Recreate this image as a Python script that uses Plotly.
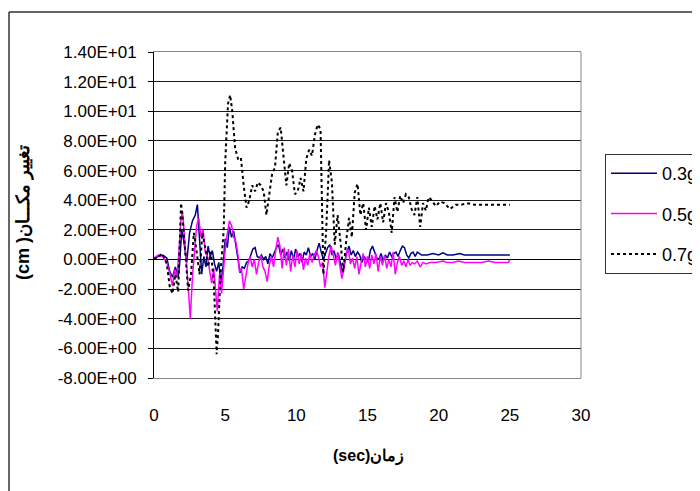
import plotly.graph_objects as go

# ---------------- data ----------------
t_03 = [0, 0.3, 0.6, 0.9, 1.1, 1.3, 1.5, 1.7, 1.8, 1.95, 2.1, 2.3, 2.5, 2.7, 2.9, 3.05, 3.2, 3.35, 3.5, 3.65,
        3.8, 3.95, 4.1, 4.25, 4.4, 4.55, 4.7, 4.85, 5.0, 5.15, 5.3, 5.45, 5.6, 5.75, 5.9, 6.05, 6.2, 6.35, 6.5, 6.65,
        6.8, 6.95, 7.1, 7.25, 7.4, 7.55, 7.7, 7.85, 8.0, 8.15, 8.3, 8.45, 8.6, 8.75, 8.9, 9.05, 9.2, 9.35, 9.5, 9.65,
        9.8, 9.95, 10.1, 10.25, 10.4, 10.55, 10.7, 10.85, 11.0, 11.15, 11.3, 11.45, 11.6, 11.75, 11.9, 12.05, 12.2, 12.35, 12.5, 12.65,
        12.8, 12.95, 13.1, 13.25, 13.4, 13.55, 13.7, 13.85, 14.0, 14.15, 14.3, 14.45, 14.6, 14.75, 14.9, 15.05, 15.2, 15.35, 15.5, 15.65,
        15.8, 15.95, 16.1, 16.25, 16.4, 16.55, 16.7, 16.85, 17.0, 17.15, 17.3, 17.45, 17.6, 17.75, 17.9, 18.05, 18.2, 18.35, 18.5, 18.65,
        18.8, 18.95, 19.2, 19.6, 20.0, 20.3, 20.6, 21.0, 21.5, 21.8, 22.5, 23.0, 24.0, 25.0]
d_03 = [0.1, 0.2, 0.3, 0.1, -0.8, -1.2, -0.5, -1.2, -0.3, 2.0, 1.2, -0.2, 1.8, 2.6, 3.0, 3.7, 1.5, -1.0, 0.2, -0.5,
        0.9, 0.2, 0.6, -0.3, -0.8, -0.2, -1.6, -0.5, 1.4, 0.8, 2.2, 1.5, 1.9, 1.0, -0.2, -0.9, -0.5, -0.6, -0.2, -0.1,
        0.3, 0.7, 0.8, 0.2, 0.1, 0.3, 0.0, 0.2, -0.3, 0.4, 0.1, 0.5, 0.8, 1.0, 0.3, 0.7, 0.1, 0.5, -0.1, 0.6,
        0.0, 0.7, 0.2, 0.4, -0.2, 0.5, 0.3, 0.8, 0.2, 0.4, 0.0, 0.6, 1.1, 0.5, 0.0, 0.4, 0.8, 1.0, 0.3, 0.6,
        0.0, 0.4, -0.3, -0.9, -0.2, 0.5, 0.9, 0.3, 0.6, 0.2, 0.5, 0.3, -0.2, 0.2, 0.0, -0.2, 0.6, 0.9, 0.5, 0.1,
        0.0, 0.4, -0.1, 0.3, 0.1, 0.5, 0.2, 0.4, 0.5, 0.2, 0.6, 0.9, 0.8, 0.3, 0.1, 0.4, 0.5, 0.2, 0.5, 0.4,
        0.3, 0.3, 0.3, 0.4, 0.3, 0.45, 0.3, 0.3, 0.4, 0.3, 0.3, 0.3, 0.3, 0.3]

t_05 = [0, 0.3, 0.6, 0.9, 1.1, 1.3, 1.45, 1.6, 1.75, 1.9, 2.0, 2.15, 2.3, 2.45, 2.55, 2.7, 2.85, 3.0, 3.15, 3.3,
        3.45, 3.6, 3.75, 3.9, 4.05, 4.2, 4.3, 4.45, 4.6, 4.75, 4.9, 5.05, 5.2, 5.3, 5.45, 5.6, 5.75, 5.9, 6.0, 6.15,
        6.3, 6.45, 6.6, 6.75, 6.9, 7.05, 7.2, 7.35, 7.5, 7.65, 7.8, 7.95, 8.1, 8.25, 8.4, 8.55, 8.7, 8.85, 9.0, 9.15,
        9.3, 9.45, 9.6, 9.75, 9.9, 10.05, 10.2, 10.35, 10.5, 10.65, 10.8, 10.95, 11.1, 11.25, 11.4, 11.55, 11.7, 11.85, 12.0, 12.15,
        12.3, 12.45, 12.6, 12.75, 12.9, 13.05, 13.2, 13.35, 13.5, 13.65, 13.8, 13.95, 14.1, 14.25, 14.4, 14.55, 14.7, 14.85, 15.0, 15.15,
        15.3, 15.45, 15.6, 15.75, 15.9, 16.05, 16.2, 16.35, 16.5, 16.65, 16.8, 16.95, 17.1, 17.25, 17.4, 17.55, 17.7, 17.85, 18.0, 18.15,
        18.3, 18.5, 18.7, 18.9, 19.1, 19.4, 19.8, 20.3, 20.6, 21.0, 21.4, 21.8, 22.5, 23.0, 23.5, 24.0, 24.9, 25.0]
d_05 = [0.1, 0.3, 0.2, -0.2, -0.9, -1.8, -0.7, -1.2, 0.5, 2.8, 3.2, 1.0, -0.5, -2.5, -4.0, -1.2, 0.8, 2.3, 2.8, 1.5,
        2.0, 0.5, 0.2, -0.8, -1.6, -0.6, -1.8, -3.5, -1.0, -2.3, -0.5, 1.2, 2.0, 2.6, 2.3, 1.5, 1.2, 0.3, -0.8, -0.6,
        -2.0, -1.0, -0.3, 0.2, -0.5, 0.0, -1.0, -0.2, 0.3, -0.5, -0.8, -1.5, -0.4, 0.2, -0.5, 0.6, 1.5, 0.9, -0.6, 0.8,
        -0.4, 0.7, -0.8, 0.3, -0.5, 0.6, -0.3, 0.4, -0.7, 0.1, -0.4, 0.4, -0.2, 0.3, 0.6, 0.2, -0.5, -0.2, -1.9, -0.8,
        0.3, 0.9, 0.2, -0.4, 0.5, -0.3, -1.3, -0.6, 0.4, 0.7, -0.3, 0.1, -0.6, 0.2, -1.0, -0.2, 0.4, -0.5, 0.2, -0.6,
        0.3, -0.3, 0.4, -0.8, 0.2, -0.4, 0.3, -0.6, 0.0, -0.5, 0.5, -1.0, -0.2, 0.2, -0.4, -0.1, -0.5, 0.0, -0.4, -0.2,
        -0.3, -0.1, -0.5, -0.2, -0.3, -0.2, -0.2, -0.1, -0.2, -0.2, -0.1, -0.2, -0.2, -0.2, -0.1, -0.2, -0.2, 0.0]

t_07 = [0, 0.3, 0.6, 0.9, 1.1, 1.3, 1.5, 1.7, 1.9, 2.0, 2.2, 2.4, 2.6, 2.8, 3.0, 3.2, 3.4, 3.6, 3.8, 4.0,
        4.2, 4.4, 4.5, 4.7, 4.9, 5.0, 5.2, 5.35, 5.5, 5.7, 5.9, 6.1, 6.3, 6.5, 6.7, 6.9, 7.1, 7.3, 7.5, 7.7,
        7.9, 8.1, 8.3, 8.5, 8.7, 8.9, 9.1, 9.3, 9.5, 9.7, 9.9, 10.1, 10.3, 10.5, 10.7, 10.9, 11.1, 11.3, 11.5, 11.7,
        11.9, 12.1, 12.3, 12.5, 12.7, 12.9, 13.1, 13.3, 13.5, 13.7, 13.9, 14.1, 14.3, 14.5, 14.7, 14.9, 15.1, 15.3, 15.5, 15.7,
        15.9, 16.1, 16.3, 16.5, 16.7, 16.9, 17.1, 17.3, 17.5, 17.7, 17.9, 18.1, 18.3, 18.5, 18.7, 18.9, 19.1, 19.3, 19.5, 19.8,
        20.1, 20.4, 20.8, 21.2, 21.6, 22.0, 22.5, 23.0, 23.5, 24.0, 24.5, 25.0]
d_07 = [0.0, 0.2, 0.4, -0.3, -1.8, -2.3, -1.0, -2.2, 3.8, 3.0, 0.5, -2.1, -1.0, 1.8, 0.5, -1.0, 1.8, 0.8, -0.5, 0.5,
        -1.5, -6.4, -5.0, -0.5, 2.0, 6.5, 10.5, 11.1, 10.0, 7.5, 6.8, 6.9, 5.0, 3.5, 4.0, 5.0, 4.6, 5.2, 5.0, 4.6,
        3.0, 4.5, 5.8, 6.2, 8.6, 8.9, 7.0, 5.0, 6.5, 6.0, 4.4, 4.6, 5.5, 4.6, 6.8, 7.4, 7.0, 8.4, 9.1, 8.8,
        -1.0, 2.0, 6.7, 5.2, 1.0, 3.0, 1.2, -0.8, 1.2, 2.8, 1.5, 4.5, 5.1, 3.0, 3.8, 2.0, 3.5, 2.2, 3.6, 2.7,
        3.8, 2.5, 3.8, 3.2, 1.8, 4.2, 3.2, 4.3, 3.8, 4.4, 4.2, 3.4, 3.0, 4.2, 2.2, 3.8, 3.3, 4.2, 4.0, 3.6,
        3.9, 3.8, 3.4, 3.7, 3.7, 3.8, 3.7, 3.7, 3.7, 3.7, 3.7, 3.7]

series_names = ["0.3g", "0.5g", "0.7g"]
y_tick_vals = [-8, -6, -4, -2, 0, 2, 4, 6, 8, 10, 12, 14]
y_tick_text = ["-8.00E+00", "-6.00E+00", "-4.00E+00", "-2.00E+00", "0.00E+00", "2.00E+00",
               "4.00E+00", "6.00E+00", "8.00E+00", "1.00E+01", "1.20E+01", "1.40E+01"]
x_tick_vals = [0, 5, 10, 15, 20, 25, 30]
x_title = "<b>(sec)زمان</b>"
y_title = "<b>(cm )تغییر مکـــان</b>"

# ---------------- figure ----------------
W, H = 700, 491
OFF = 7  # page offset of the plot div
SL, SR, ST, SB = 153, 580, 51, 377
L = SL - OFF
T = ST - OFF
pw = SR - SL
ph = SB - ST
R = W - L - pw
B = H - T - ph


def px_x(p):
    return (p - SL) / pw


def px_y(p):
    return (SB - p) / ph


FONT = "Liberation Sans, Arial, sans-serif"

fig = go.Figure()
fig.add_trace(go.Scatter(x=t_03, y=d_03, mode="lines", name=series_names[0], legendgroup="a",
                         line=dict(color="#000080", width=1.5)))
fig.add_trace(go.Scatter(x=t_05, y=d_05, mode="lines", name=series_names[1], legendgroup="b",
                         line=dict(color="#FF00FF", width=1.5)))
fig.add_trace(go.Scatter(x=t_07, y=d_07, mode="lines", name=series_names[2], legendgroup="c",
                         line=dict(color="#000000", width=2, dash="dot")))

fig.update_layout(
    width=W, height=H,
    margin=dict(l=L, r=R, t=T, b=B, autoexpand=False),
    paper_bgcolor="white", plot_bgcolor="white",
    font=dict(family=FONT, size=17, color="black"),
    showlegend=True,
    legend=dict(x=px_x(604), y=px_y(153), xanchor="left", yanchor="top",
                bordercolor="#333333", borderwidth=1, bgcolor="white",
                font=dict(size=18, family=FONT), tracegroupgap=14,
                itemwidth=46),
    xaxis=dict(range=[0, 30], tickvals=x_tick_vals, showgrid=False, zeroline=False,
               showline=True, mirror=True, linecolor="#888888", linewidth=1,
               ticks="", ticklabelstandoff=22, tickfont=dict(size=17, family=FONT)),
    yaxis=dict(range=[-8, 14], tickvals=y_tick_vals, ticktext=y_tick_text,
               showgrid=True, gridcolor="#1a1a1a", gridwidth=1,
               zeroline=True, zerolinecolor="black", zerolinewidth=1,
               showline=True, linecolor="black", linewidth=1, mirror=False,
               ticks="outside", ticklen=5, tickcolor="black", ticklabelstandoff=8,
               tickfont=dict(size=17, family=FONT)),
    shapes=[
        dict(type="line", xref="paper", yref="paper", x0=1, x1=1, y0=0, y1=1,
             line=dict(color="#888888", width=1)),
        dict(type="line", xref="paper", yref="paper", x0=px_x(8), x1=px_x(8), y0=px_y(11), y1=px_y(500),
             line=dict(color="#333333", width=1.5)),
        dict(type="line", xref="paper", yref="paper", x0=px_x(8), x1=px_x(710), y0=px_y(11), y1=px_y(11),
             line=dict(color="#333333", width=1.5)),
    ],
    annotations=[
        dict(text=x_title, xref="paper", yref="paper", x=px_x(367), y=px_y(455),
             showarrow=False, font=dict(size=16, family=FONT, color="black"),
             xanchor="center", yanchor="middle"),
        dict(text=y_title, xref="paper", yref="paper", x=px_x(22), y=px_y(212),
             showarrow=False, textangle=-90, font=dict(size=18, family=FONT, color="black"),
             xanchor="center", yanchor="middle"),
    ],
)

fig.write_html("out.html")
